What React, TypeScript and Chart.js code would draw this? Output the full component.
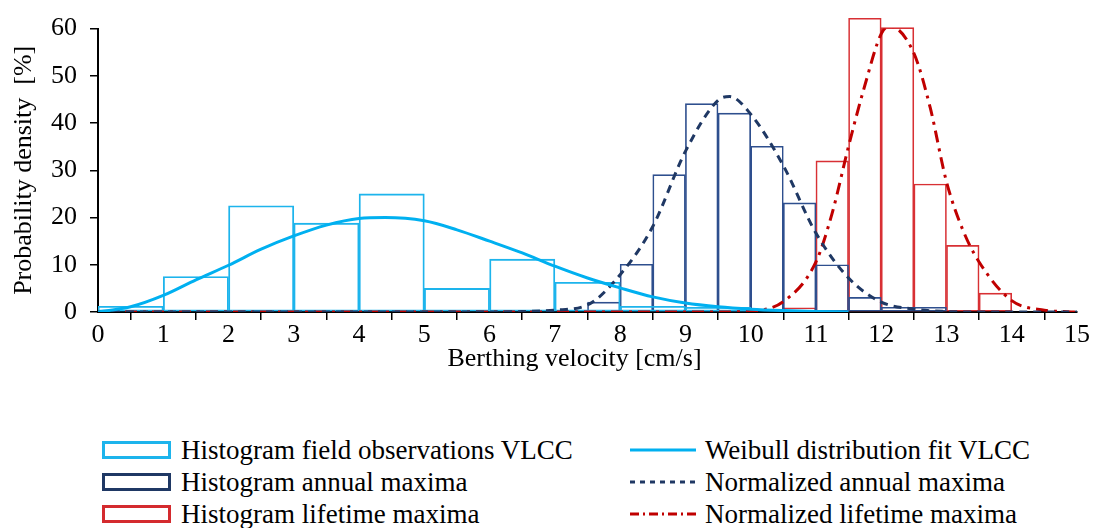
import React, { useEffect, useRef } from 'react';
import { Chart, registerables } from 'chart.js';

Chart.register(...registerables);

// ---- data ----
const fieldBinCenters = [0.5, 1.5, 2.5, 3.5, 4.5, 5.5, 6.5, 7.5, 8.5, 9.5];
const fieldBinHeights = [1.2, 7.5, 22.5, 18.8, 25.0, 5.0, 11.2, 6.3, 1.2, 1.0];

const annualBinCenters = [7.75, 8.25, 8.75, 9.25, 9.75, 10.25, 10.75, 11.25, 11.75, 12.25, 12.75];
const annualBinHeights = [2.1, 10.1, 29.1, 44.1, 42.1, 35.1, 23.1, 10.0, 3.1, 1.0, 1.0];

const lifetimeBinCenters = [10.75, 11.25, 11.75, 12.25, 12.75, 13.25, 13.75];
const lifetimeBinHeights = [0.9, 32.0, 62.2, 60.2, 27.1, 14.1, 4.0];

const weibullX = [0, 0.5, 1, 1.5, 2, 2.5, 3, 3.5, 4, 4.4, 5, 5.5, 6, 6.5, 7, 7.5, 8, 8.5, 9, 9.5, 10, 10.5, 11, 11.5];
const weibullY = [0, 1.1, 3.5, 6.8, 9.9, 13.3, 16.1, 18.4, 19.8, 20.0, 19.3, 17.4, 15.0, 12.5, 9.7, 7.2, 5.1, 3.2, 1.9, 1.1, 0.6, 0.3, 0.1, 0];

const annualFitX = [0, 6, 6.5, 7, 7.5, 8, 8.5, 9, 9.5, 9.68, 10, 10.5, 11, 11.5, 12, 12.5, 13, 13.5, 15];
const annualFitY = [0, 0, 0.1, 0.4, 1.5, 7.9, 18.1, 34.0, 44.8, 45.6, 41.9, 31.0, 16.7, 7.2, 2.1, 0.6, 0.1, 0, 0];

const lifetimeFitX = [0, 9.5, 10, 10.5, 11, 11.25, 11.5, 11.75, 12, 12.13, 12.5, 12.75, 13, 13.25, 13.5, 14, 14.5, 15];
const lifetimeFitY = [0, 0, 0.2, 2.2, 10.6, 21.0, 35.1, 48.0, 58.9, 60.5, 54.8, 43.3, 27.6, 17.4, 10.6, 2.4, 0.4, 0];

const xTickStep = 1;
const yTickStep = 10;

const legendLeft = [
  { label: 'Histogram field observations VLCC', color: '#1DB4EC' },
  { label: 'Histogram annual maxima', color: '#1F3864' },
  { label: 'Histogram lifetime maxima', color: '#D42A2E' },
];
const legendRight = [
  { label: 'Weibull distribution fit VLCC', color: '#00B0F0', dash: '' },
  { label: 'Normalized annual maxima', color: '#1F3864', dash: '5 5' },
  { label: 'Normalized lifetime maxima', color: '#C00000', dash: '9 4 2 4' },
];

const FONT = "'Liberation Serif', Tinos, 'Times New Roman', 'DejaVu Serif', serif";

function pts(xs: number[], ys: number[]) {
  return xs.map((x, i) => ({ x, y: ys[i] }));
}

export default function App() {
  const ref = useRef<HTMLCanvasElement | null>(null);

  useEffect(() => {
    if (!ref.current) return;
    Chart.defaults.font.family = FONT;
    const font = { family: FONT, size: 26 };
    const chart = new Chart(ref.current, {
      type: 'line',
      data: {
        datasets: [
          {
            type: 'line',
            label: 'Weibull distribution fit VLCC',
            data: pts(weibullX, weibullY),
            borderColor: '#00B0F0',
            borderWidth: 3,
            pointRadius: 0,
            fill: false,
            cubicInterpolationMode: 'monotone',
            order: 0,
          },
          {
            type: 'line',
            label: 'Normalized annual maxima',
            data: pts(annualFitX, annualFitY),
            borderColor: '#1F3864',
            borderWidth: 3,
            borderDash: [8, 6],
            pointRadius: 0,
            fill: false,
            cubicInterpolationMode: 'monotone',
            order: 0,
          },
          {
            type: 'line',
            label: 'Normalized lifetime maxima',
            data: pts(lifetimeFitX, lifetimeFitY),
            borderColor: '#C00000',
            borderWidth: 3,
            borderDash: [12, 6, 3, 6],
            pointRadius: 0,
            fill: false,
            cubicInterpolationMode: 'monotone',
            order: 0,
          },
          {
            type: 'bar',
            label: 'Histogram field observations VLCC',
            xAxisID: 'xb',
            data: pts(fieldBinCenters, fieldBinHeights),
            backgroundColor: 'rgba(0,0,0,0)',
            borderColor: '#1DB4EC',
            borderWidth: 1.2,
            borderSkipped: false,
            barPercentage: 1,
            categoryPercentage: 1,
            grouped: false,
            order: 1,
          },
          {
            type: 'bar',
            label: 'Histogram annual maxima',
            xAxisID: 'x',
            data: pts(annualBinCenters, annualBinHeights),
            backgroundColor: 'rgba(0,0,0,0)',
            borderColor: '#2E4F8E',
            borderWidth: 1,
            borderSkipped: false,
            barPercentage: 1,
            categoryPercentage: 1,
            grouped: false,
            order: 1,
          },
          {
            type: 'bar',
            label: 'Histogram lifetime maxima',
            xAxisID: 'x',
            data: pts(lifetimeBinCenters, lifetimeBinHeights),
            backgroundColor: 'rgba(0,0,0,0)',
            borderColor: '#D83034',
            borderWidth: 1,
            borderSkipped: false,
            barPercentage: 1,
            categoryPercentage: 1,
            grouped: false,
            clip: false as any,
            order: 1,
          },
        ] as any,
      },
      options: {
        responsive: false,
        animation: false,
        layout: { padding: { left: 0, right: 16, top: 18, bottom: 0 } },
        plugins: { legend: { display: false }, tooltip: { enabled: false } },
        scales: {
          x: {
            type: 'linear',
            position: 'bottom',
            min: 0,
            max: 15,
            offset: false,
            ticks: { stepSize: xTickStep, font, color: '#000', padding: 0, maxRotation: 0, autoSkip: false },
            grid: { drawOnChartArea: false, drawTicks: true, tickLength: 8, color: '#000', lineWidth: 1.5 },
            border: { display: true, color: '#000', width: 2 },
            title: {
              display: true,
              text: 'Berthing velocity [cm/s]    ',
              font,
              color: '#000',
              padding: { top: 0, bottom: 15 },
            },
            afterFit: (s: any) => {
              s.height = 78;
            },
          },
          xb: {
            type: 'linear',
            position: 'bottom',
            min: 0,
            max: 15,
            offset: false,
            display: false,
            ticks: { stepSize: xTickStep },
          },
          y: {
            type: 'linear',
            min: 0,
            max: 60,
            ticks: { stepSize: yTickStep, font, color: '#000', padding: 13 },
            grid: { drawOnChartArea: false, drawTicks: true, tickLength: 8, color: '#000', lineWidth: 1.5 },
            border: { display: true, color: '#000', width: 2 },
            title: {
              display: true,
              text: 'Probability density  [%]',
              font,
              color: '#000',
              padding: { top: 9, bottom: 0 },
            },
            afterFit: (s: any) => {
              s.width = 98;
            },
          },
        },
      } as any,
    });
    return () => chart.destroy();
  }, []);

  const rowY = [450, 482, 514];

  return (
    <div style={{ position: 'fixed', left: 0, top: 0, width: 1093, height: 528, background: '#fff', overflow: 'hidden' }}>
      <canvas ref={ref} width={1093} height={390} style={{ position: 'absolute', left: 0, top: 0, width: 1093, height: 390 }} />
      {legendLeft.map((it, i) => (
        <div key={'l' + i} style={{ position: 'absolute', left: 102, top: rowY[i] - 16, height: 32, display: 'flex', alignItems: 'center', fontFamily: FONT, fontSize: 27, color: '#000', whiteSpace: 'nowrap' }}>
          <span style={{ display: 'inline-block', width: 63, height: 12, border: `3px solid ${it.color}`, marginRight: 10, boxSizing: 'content-box' }} />
          <span>{it.label}</span>
        </div>
      ))}
      {legendRight.map((it, i) => (
        <div key={'r' + i} style={{ position: 'absolute', left: 630, top: rowY[i] - 16, height: 32, display: 'flex', alignItems: 'center', fontFamily: FONT, fontSize: 27, color: '#000', whiteSpace: 'nowrap' }}>
          <svg width={66} height={6} style={{ marginRight: 9 }}>
            <line x1={0} y1={3} x2={66} y2={3} stroke={it.color} strokeWidth={3} strokeDasharray={it.dash || undefined} />
          </svg>
          <span>{it.label}</span>
        </div>
      ))}
    </div>
  );
}
